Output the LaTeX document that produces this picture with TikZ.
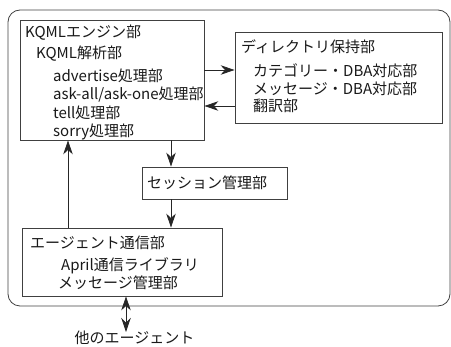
\documentclass[tikz,border=0pt]{standalone}
\usepackage{fontspec}
\setmainfont{Noto Sans CJK JP}
\usetikzlibrary{arrows.meta}
\begin{document}
\begin{tikzpicture}[x=1pt,y=-1pt,
  every node/.style={font=\fontsize{15}{18}\selectfont, text=black!90},
  frame/.style={draw=black!75, line width=0.8pt, inner sep=0pt, fill=white},
  txt/.style={anchor=base west, inner sep=0pt},
  tip/.tip={Stealth[length=14pt,width=9.5pt,inset=4.5pt]},
  conn/.style={draw=black!85, line width=0.8pt, -tip},
  dconn/.style={draw=black!85, line width=0.8pt, tip-tip}]
\useasboundingbox (0,0) rectangle (451,347);
\draw[draw=black!75, line width=0.8pt, rounded corners=12pt] (8,10) rectangle (450,306);
% boxes
\node[frame, minimum width=184pt, minimum height=120pt] (kqml) at (112,80) {};
\node[frame, minimum width=207pt, minimum height=91pt] (dir) at (338.5,77.5) {};
\node[frame, minimum width=145pt, minimum height=32pt] (sess) at (214.5,183) {};
\node[frame, minimum width=200pt, minimum height=68pt] (agent) at (122,262) {};
% texts KQML
\node[txt] (k1) at (25,38) {KQMLエンジン部};
\node[txt] (k2) at (36,59) {KQML解析部};
\node[txt] (k3) at (53,82) {advertise処理部};
\node[txt] (k4) at (53,100) {ask-all/ask-one処理部};
\node[txt] (k5) at (53,118.5) {tell処理部};
\node[txt] (k6) at (53,137) {sorry処理部};
% directory
\node[txt] (d1) at (241,53) {ディレクトリ保持部};
\node[txt] (d2) at (253,77) {カテゴリー・DBA対応部};
\node[txt] (d3) at (253,94.5) {メッセージ・DBA対応部};
\node[txt] (d4) at (253,112) {翻訳部};
% session
\node[txt] (s1) at (147,189) {セッション管理部};
% agent
\node[txt] (a1) at (30,249) {エージェント通信部};
\node[txt] (a2) at (61,271) {April通信ライブラリ};
\node[txt] (a3) at (58,289) {メッセージ管理部};
% other
\node[anchor=base, inner sep=0pt] (other) at (134.5,344) {他のエージェント};
\coordinate (yA) at (0,70);
\coordinate (yB) at (0,106);
\coordinate (xA) at (171,0);
\coordinate (xB) at (68,0);
\coordinate (xC) at (126,0);
\coordinate (tipO) at (126,332);
% connectors
\draw[conn] (kqml.east |- yA) -- (dir.west |- yA);
\draw[conn] (dir.west |- yB) -- (kqml.east |- yB);
\draw[conn] (kqml.south -| xA) -- (sess.north -| xA);
\draw[conn] (sess.south -| xA) -- (agent.north -| xA);
\draw[conn] (agent.north -| xB) -- (kqml.south -| xB);
\draw[dconn] (agent.south -| xC) -- (tipO);
\end{tikzpicture}
\end{document}
